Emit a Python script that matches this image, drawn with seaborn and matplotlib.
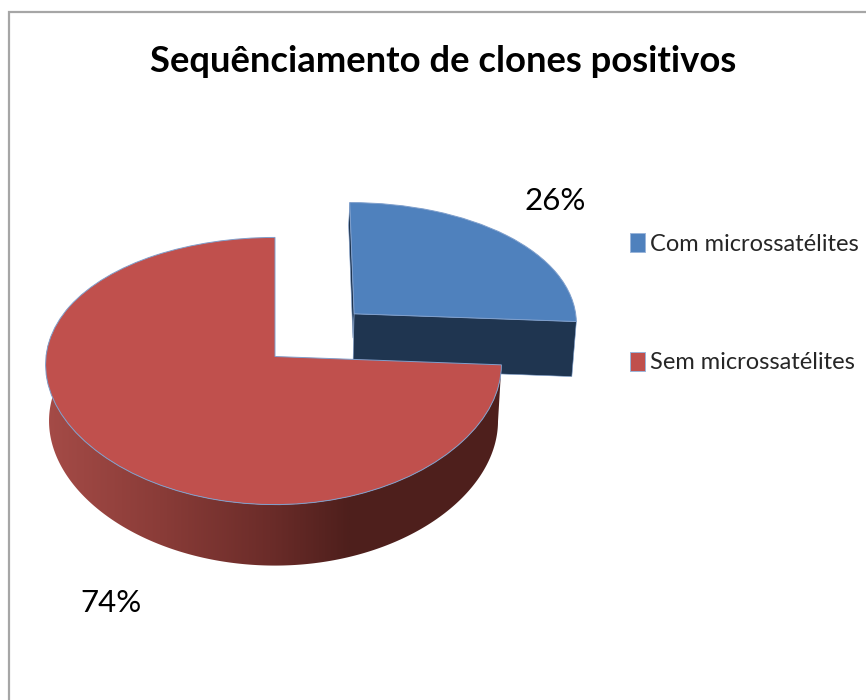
import numpy as np
import matplotlib
matplotlib.use("Agg")
import matplotlib.pyplot as plt
import seaborn as sns
from matplotlib.colors import LinearSegmentedColormap
from matplotlib.patches import Patch, Polygon
from matplotlib.transforms import Transform

# --- data ---
categories = ["Com microssatélites", "Sem microssatélites"]
shares = [26, 74]
title_text = "Sequênciamento de clones positivos"

# --- style ---
sns.set_theme(style="white")
plt.rcParams["font.family"] = ["Lato", "DejaVu Sans"]
LABEL_SIZE = 22.5
palette = sns.color_palette(["#4f81bd", "#c0504d"])
BLUE_WALL = "#1f3550"
EDGE = "#7f9fcc"
EXPLODE = 0.49
XC, YC, RX_RIGHT, RX_LEFT, RY = 275.0, 356.5, 226.0, 229.0, 132.0
K_X, K_Y, K_D = 0.06, 0.1087, 0.0785
DEPTH, SHRINK = 56.2, 0.985


class Perspective(Transform):
    """Lays the flat pie on a tilted plane; output is in pixel-like data units."""
    input_dims = output_dims = 2
    is_separable = False
    has_inverse = False

    def transform_non_affine(self, values):
        values = np.asarray(values, dtype=float)
        u, v = values[:, 0], values[:, 1]
        rx = np.where(u < 0, RX_LEFT, RX_RIGHT)
        return np.column_stack([XC + rx * u / (1 + K_X * v), YC - RY * v / (1 + K_Y * v)])


persp = Perspective()


def drop(uv, depth=DEPTH):
    """Points of the lower rim that belong under the points uv of the top face."""
    uv = np.atleast_2d(uv)
    p = persp.transform_non_affine(uv)
    return np.column_stack([XC + (p[:, 0] - XC) * SHRINK,
                            p[:, 1] + depth / (1 + K_D * uv[:, 1])])


fig = plt.figure(figsize=(8.66, 7.0), dpi=100, facecolor="white")
ax = fig.add_axes([0, 0, 1, 1])

wedges, _ = ax.pie(shares, explode=[EXPLODE, 0], startangle=90, counterclock=False,
                   radius=1, colors=palette, normalize=True,
                   wedgeprops=dict(edgecolor=EDGE, linewidth=0.7))
ax.set_aspect("auto")
for w, z in zip(wedges, (3, 6)):
    w.set_transform(persp + ax.transData)
    w.set_zorder(z)

# angle where the two slices meet, taken from the data
boundary = 90 - 360 * shares[0] / sum(shares)
off = EXPLODE * np.array([np.cos(np.radians((90 + boundary) / 2)),
                          np.sin(np.radians((90 + boundary) / 2))])


def rim(t):
    return np.column_stack([np.cos(np.radians(t)), np.sin(np.radians(t))])


# walls of the pulled-out slice (from its two cut faces)
apex = off[None, :]
end = off + rim([boundary])
start = off + rim([90])
for a, b, d in ((start, apex, 25.0), (apex, end, DEPTH)):
    pts = np.vstack([persp.transform_non_affine(a), persp.transform_non_affine(b),
                     drop(b, d), drop(a, d)])
    ax.add_patch(Polygon(pts, closed=True, facecolor=BLUE_WALL, edgecolor=EDGE,
                         linewidth=0.4, zorder=2))

# outer wall of the large slice, with a left-to-right shade
theta = np.linspace(boundary, -188, 300)
top = persp.transform_non_affine(rim(theta))
bot = drop(rim(theta))
wall = Polygon(np.vstack([top, bot[::-1]]), closed=True, facecolor="none",
               edgecolor="none", transform=ax.transData)
ax.add_patch(wall)
x0, x1 = 46.0, 350.0
shade = LinearSegmentedColormap.from_list(
    "wall", [(0.0, "#a54b47"), ((160 - x0) / (x1 - x0), "#8a3c38"),
             ((270 - x0) / (x1 - x0), "#6b2c29"), (1.0, "#4e1f1c")])
img = ax.imshow(np.linspace(0, 1, 256)[None, :], cmap=shade, aspect="auto",
                extent=(x0, x1, 600, 300), zorder=5, interpolation="bilinear")
img.set_clip_path(wall)
img2 = ax.imshow(np.ones((1, 2)), cmap=shade, vmin=0, vmax=1, aspect="auto",
                 extent=(x1, 510, 600, 300), zorder=5)
img2.set_clip_path(wall)

# frame: only the top and left sides of the original are visible
ax.plot([8.5, 8.5, 866], [700, 11.5, 11.5], color="#a6a6a6", lw=1.6, zorder=1,
        solid_joinstyle="miter")

ax.text(443, 72, title_text, ha="center", va="baseline", fontsize=26.2,
        fontweight="bold", color="black", zorder=10)
ax.text(555.5, 210, f"{shares[0]}%", ha="center", va="baseline", fontsize=LABEL_SIZE,
        color="black", zorder=10)
ax.text(111, 612, f"{shares[1]}%", ha="center", va="baseline", fontsize=LABEL_SIZE,
        color="black", zorder=10)

handles = [Patch(facecolor=c, edgecolor="#9ab5da", linewidth=0.7, label=l)
           for c, l in zip(palette, categories)]
ax.legend(handles=handles, loc="upper left", bbox_to_anchor=(630, 233),
          bbox_transform=ax.transData, frameon=False, fontsize=17,
          handlelength=0.65, handleheight=0.85, handletextpad=0.2,
          labelspacing=4.12, borderpad=0, borderaxespad=0)

ax.set_xlim(0, 866)
ax.set_ylim(700, 0)
ax.axis("off")
fig.savefig("out.png", dpi=100, facecolor="white")
